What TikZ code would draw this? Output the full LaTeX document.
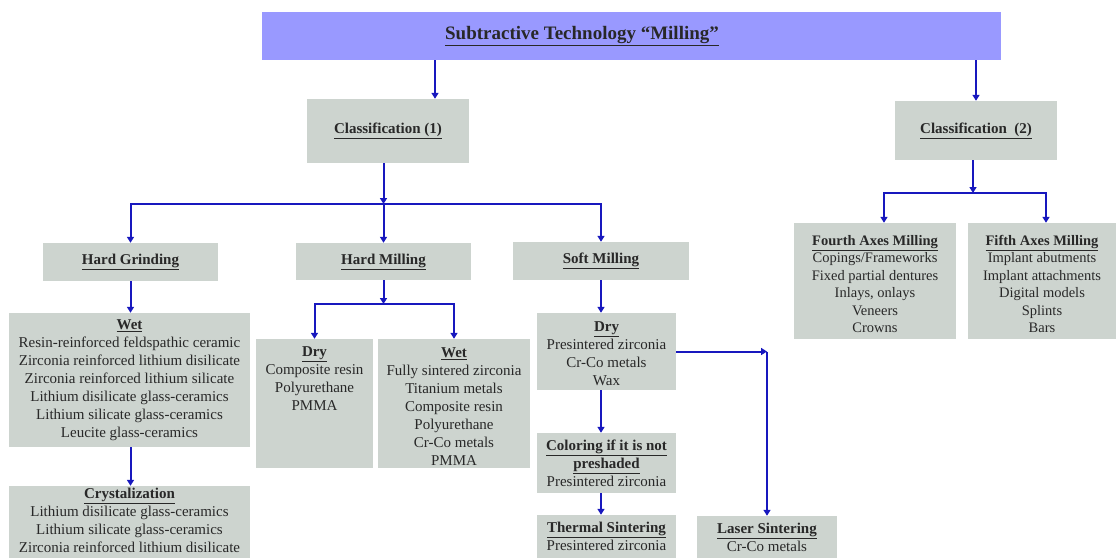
\documentclass[tikz,border=0pt]{standalone}
\usepackage{fontspec}
\setmainfont{Liberation Serif}
\usetikzlibrary{arrows.meta}
\definecolor{titlefill}{RGB}{153,153,255}
\definecolor{boxfill}{RGB}{205,212,207}
\definecolor{linkblue}{RGB}{24,24,190}
\definecolor{inkgray}{RGB}{40,40,40}
\newcommand{\boxhead}[1]{\underline{\textbf{#1}}}

\begin{document}
\begin{tikzpicture}[x=1pt,y=-1pt,
  graybox/.style={fill=boxfill,inner sep=0pt,align=center,text=inkgray,
    font=\fontsize{15}{18}\selectfont},
  smallbox/.style={graybox,font=\fontsize{14.5}{17.5}\selectfont},
  conn/.style={draw=linkblue,line width=2pt,-{Triangle[length=6pt,width=7pt]}}]
\useasboundingbox (0,0) rectangle (1118,558);

% top
\node[fill=titlefill,minimum width=739pt,minimum height=48pt] (title) at (631.5,36) {};
\node[text=inkgray,font=\fontsize{19}{22}\selectfont] (titletext) at (582,36)
  {\boxhead{Subtractive Technology “Milling”}};
\node[graybox,minimum width=162pt,minimum height=64pt] (cls1) at (388,131) {\boxhead{Classification (1)}};
\node[graybox,minimum width=162pt,minimum height=59pt] (cls2) at (976,130.5) {\boxhead{Classification\ \ (2)}};

% classification (1)
\node[graybox,minimum width=175pt,minimum height=38pt] (hg) at (130.5,262) {\boxhead{Hard Grinding}};
\node[graybox,minimum width=175pt,minimum height=37pt] (hm) at (383.5,261.5) {\boxhead{Hard Milling}};
\node[graybox,minimum width=176pt,minimum height=38pt] (sm) at (601,261) {\boxhead{Soft Milling}};

\node[graybox,minimum width=241pt,minimum height=134pt] (hgwet) at (129.5,380)
  {\boxhead{Wet}\\Resin-reinforced feldspathic ceramic\\Zirconia reinforced lithium disilicate\\
   Zirconia reinforced lithium silicate\\Lithium disilicate glass-ceramics\\
   Lithium silicate glass-ceramics\\Leucite glass-ceramics};
\node[graybox,minimum width=241pt,minimum height=72pt] (cryst) at (129.5,522) {};
\node[graybox,fill=none,anchor=north] (crysttext) at ([yshift=-2pt]cryst.north)
  {\boxhead{Crystalization}\\Lithium disilicate glass-ceramics\\Lithium silicate glass-ceramics\\
   Zirconia reinforced lithium disilicate};

\node[graybox,minimum width=117pt,minimum height=129pt] (hmdry) at (314.5,403.5) {};
\node[graybox,fill=none,anchor=north] (hmdrytext) at ([yshift=-8pt]hmdry.north)
  {\boxhead{Dry}\\Composite resin\\Polyurethane\\PMMA};
\node[graybox,minimum width=152pt,minimum height=129pt] (hmwet) at (454,403.5) {};
\node[graybox,fill=none] (hmwettext) at ([yshift=-3pt]hmwet.center)
  {\boxhead{Wet}\\Fully sintered zirconia\\Titanium metals\\Composite resin\\Polyurethane\\
   Cr-Co metals\\PMMA};

\node[graybox,minimum width=139pt,minimum height=77pt] (smdry) at (606.5,351.5) {};
\node[graybox,fill=none] (smdrytext) at ([yshift=-2pt]smdry.center)
  {\boxhead{Dry}\\Presintered zirconia\\Cr-Co metals\\Wax};
\node[graybox,minimum width=139pt,minimum height=60pt] (color) at (606.5,463)
  {\boxhead{Coloring if it is not}\\\boxhead{preshaded}\\Presintered zirconia};
\node[graybox,minimum width=139pt,minimum height=43pt] (thermal) at (606.5,536.5)
  {\boxhead{Thermal Sintering}\\Presintered zirconia};
\node[graybox,minimum width=140pt,minimum height=42pt] (laser) at (767,537)
  {\boxhead{Laser Sintering}\\Cr-Co metals};

% classification (2)
\node[smallbox,minimum width=162pt,minimum height=116pt] (fourth) at (875,281) {};
\node[smallbox,fill=none] (fourthtext) at ([yshift=-3pt]fourth.center)
  {\boxhead{Fourth Axes Milling}\\Copings/Frameworks\\Fixed partial dentures\\Inlays, onlays\\
   Veneers\\Crowns};
\node[smallbox,minimum width=148pt,minimum height=116pt] (fifth) at (1042,281) {};
\node[smallbox,fill=none] (fifthtext) at ([yshift=-3pt]fifth.center)
  {\boxhead{Fifth Axes Milling}\\Implant abutments\\Implant attachments\\Digital models\\
   Splints\\Bars};

% connectors
\coordinate (split1) at (383.5,204);
\coordinate (split2) at (973,193);
\coordinate (split3) at (383.5,304);
\coordinate (laserturn) at (laser.north |- smdry.east);

\draw[conn] ([xshift=47pt]cls1.north |- title.south) -- ([xshift=47pt]cls1.north);
\draw[conn] (cls2.north |- title.south) -- (cls2.north);

\draw[conn] (cls1.south -| split1) -- (split1);
\draw[conn] (split1) -| (hg.north);
\draw[conn] (split1) -- (hm.north);
\draw[conn] (split1) -| (sm.north);

\draw[conn] (hg.south) -- (hg.south |- hgwet.north);
\draw[conn] (hg.south |- hgwet.south) -- (hg.south |- cryst.north);

\draw[conn] (hm.south) -- (split3);
\draw[conn] (split3) -| (hmdry.north);
\draw[conn] (split3) -| (hmwet.north);

\draw[conn] (sm.south) -- (sm.south |- smdry.north);
\draw[conn] (sm.south |- smdry.south) -- (sm.south |- color.north);
\draw[conn] (sm.south |- color.south) -- (sm.south |- thermal.north);
\draw[conn] (smdry.east) -- (laserturn);
\draw[conn] (laserturn) -- (laser.north);

\draw[conn] (cls2.south -| split2) -- (split2);
\draw[conn] (split2) -| ([xshift=9pt]fourth.north);
\draw[conn] (split2) -| ([xshift=4pt]fifth.north);
\end{tikzpicture}
\end{document}
